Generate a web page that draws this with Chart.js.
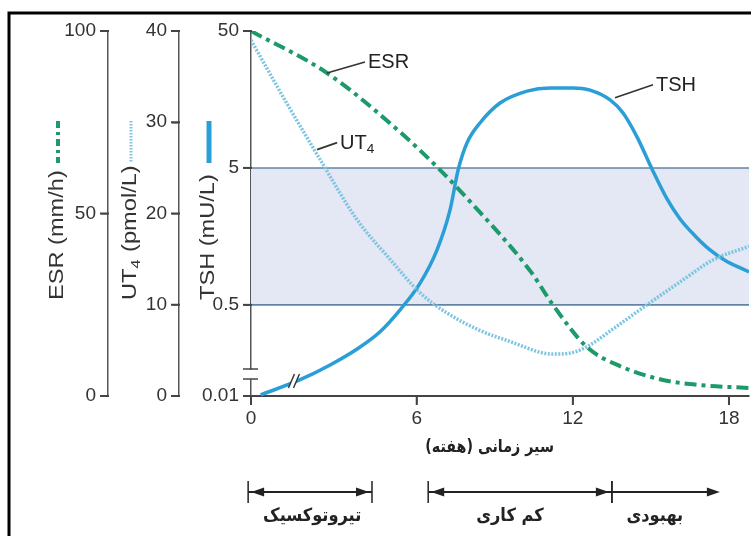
<!DOCTYPE html>
<html>
<head>
<meta charset="utf-8">
<script src="https://cdn.jsdelivr.net/npm/chart.js@4.4.1/dist/chart.umd.min.js"></script>
<style>
  html, body { margin: 0; padding: 0; background: #fff; }
</style>
</head>
<body>
<canvas id="chart" width="751" height="536"></canvas>
<script>
// weeks from onset (the picture's origin sits a little left of week 0)
const xMin = -0.37;
const xMax = 18.77;
const weekTicks = [0, 6, 12, 18];

const esrWeeks  = [-0.37, 2.55, 5.36, 6.90, 7.93, 10.39, 11.24, 12.54, 13.81, 15.46, 16.89, 18.77];
const esrValues = [100, 88.5, 72.3, 61.9, 54.2, 34.0, 24.9, 13.4, 8.2, 4.4, 3.0, 2.2];

const ut4Weeks  = [-0.37, 0.94, 2.29, 3.71, 4.97, 6.13, 7.16, 8.42, 9.46, 11.24, 11.89, 12.54, 13.62, 14.85, 16.12, 17.38, 18.77];
const ut4Values = [39.0, 32.4, 25.9, 19.3, 15.0, 11.3, 9.1, 7.2, 6.1, 4.6, 4.7, 5.4, 7.5, 10.0, 12.5, 14.9, 16.4];

const tshWeeks  = [0, 1.52, 2.67, 3.71, 4.59, 5.36, 6.13, 6.78, 7.28, 7.59, 7.93, 8.43, 9.20, 10.24, 11.12, 12.0, 12.66, 13.43, 13.93, 14.47, 15.04, 15.62, 16.12, 16.69, 17.27, 17.84, 18.77];
const tshValues = [0.11, 0.142, 0.182, 0.238, 0.318, 0.46, 0.72, 1.26, 2.47, 4.83, 7.61, 10.65, 14.9, 18.2, 19.2, 19.2, 18.5, 15.7, 12.6, 8.4, 4.92, 2.97, 2.12, 1.6, 1.26, 1.06, 0.87];

const esrTicks = [0, 50, 100];
const ut4Ticks = [0, 10, 20, 30, 40];
const tshTicks = [0.01, 0.5, 5, 50];   // log axis, broken below 0.5
const tshAxisMin = 0.108;
const tshNormal = [0.5, 5];

const phaseLabels = ['تیروتوکسیک', 'کم کاری', 'بهبودی'];
const phaseStart  = [-0.48, 6.44, 13.5];
const phaseEnd    = [4.28, 13.5, 17.65];
const phaseLabelAt = [1.98, 9.58, 15.15];

const xTitle = 'سیر زمانی (هفته)';

const ESR_COLOR = '#1c9a6a';
const UT4_COLOR = '#7cc4e0';
const TSH_COLOR = '#2a9ed6';
const AXIS_COLOR = '#444';
const LATIN = '"Liberation Sans", Arial, sans-serif';
const PERSIAN = '"DejaVu Sans", sans-serif';

const toPoints = (xs, ys) => xs.map((x, i) => ({ x: x, y: ys[i] }));

function drawRuns(ctx, runs, x, y, size) {
  runs.forEach(r => {
    const fs = r.sub ? size * 0.68 : size;
    ctx.font = fs + 'px ' + LATIN;
    ctx.fillText(r.t, x, y + (r.sub ? size * 0.3 : 0));
    x += ctx.measureText(r.t).width + (r.sub ? 1 : 0);
  });
  return x;
}

function persianText(ctx, text, x, y, size, squeeze) {
  ctx.save();
  ctx.translate(x, y);
  ctx.scale(squeeze, 1);
  ctx.direction = 'rtl';
  ctx.textAlign = 'center';
  ctx.textBaseline = 'middle';
  ctx.font = 'bold ' + size + 'px ' + PERSIAN;
  ctx.fillText(text, 0, 0);
  ctx.restore();
}

const axisTitles = [
  { id: 'yESR', runs: [{ t: 'ESR (mm/h)' }], color: ESR_COLOR, dash: [7, 4, 3, 4], width: 4, fromRight: 51 },
  { id: 'yUT4', runs: [{ t: 'UT' }, { t: '4', sub: true }, { t: ' (pmol/L)' }], color: UT4_COLOR, dash: [1.5, 1.5], width: 3, fromRight: 49 },
  { id: 'yTSH', runs: [{ t: 'TSH (mU/L)' }], color: TSH_COLOR, dash: [], width: 5, fromRight: 43 }
];

const callouts = [
  { axis: 'yESR', week: 2.55, value: 88.5, dx: 38, dy: -11, runs: [{ t: 'ESR' }] },
  { axis: 'yUT4', week: 2.17, value: 27, dx: 20, dy: -7, runs: [{ t: 'UT' }, { t: '4', sub: true }] },
  { axis: 'yTSH', week: 13.62, value: 16.3, dx: 38, dy: -13, runs: [{ t: 'TSH' }] }
];

const extras = {
  id: 'extras',
  beforeDatasetsDraw(chart) {
    const { ctx, chartArea, scales } = chart;
    const yTop = scales.yTSH.getPixelForValue(tshNormal[1]);
    const yBot = scales.yTSH.getPixelForValue(tshNormal[0]);
    ctx.save();
    ctx.fillStyle = '#e4e7f4';
    ctx.fillRect(chartArea.left, yTop, chartArea.right - chartArea.left, yBot - yTop);
    ctx.strokeStyle = '#6384a6';
    ctx.lineWidth = 1.6;
    [yTop, yBot].forEach(y => {
      ctx.beginPath();
      ctx.moveTo(chartArea.left - 7, y);
      ctx.lineTo(chartArea.right, y);
      ctx.stroke();
    });
    ctx.restore();
  },
  afterDraw(chart) {
    const { ctx, chartArea, scales } = chart;
    const x = scales.x;
    ctx.save();
    ctx.setLineDash([]);

    // tick marks on every axis
    ctx.strokeStyle = AXIS_COLOR;
    ctx.lineWidth = 2;
    ['yESR', 'yUT4', 'yTSH'].forEach(id => {
      const s = scales[id];
      s.ticks.forEach(t => {
        const py = s.getPixelForValue(t.value);
        ctx.beginPath();
        ctx.moveTo(s.right - 8, py);
        ctx.lineTo(s.right + 1, py);
        ctx.stroke();
      });
    });
    x.ticks.forEach(t => {
      const px = x.getPixelForValue(t.value);
      ctx.beginPath();
      ctx.moveTo(px, chartArea.bottom);
      ctx.lineTo(px, chartArea.bottom + 9);
      ctx.stroke();
    });

    // vertical axis titles with line samples
    axisTitles.forEach(a => {
      const s = scales[a.id];
      const cx = s.right - a.fromRight;
      ctx.save();
      ctx.strokeStyle = a.color;
      ctx.lineWidth = a.width;
      ctx.setLineDash(a.dash);
      ctx.beginPath();
      ctx.moveTo(cx + 1, 121);
      ctx.lineTo(cx + 1, 163);
      ctx.stroke();
      ctx.setLineDash([]);
      ctx.translate(cx, 300);
      ctx.rotate(-Math.PI / 2);
      ctx.scale(1.18, 1);
      ctx.fillStyle = '#333';
      ctx.textBaseline = 'middle';
      ctx.textAlign = 'left';
      drawRuns(ctx, a.runs, 0, 0, 20);
      ctx.restore();
    });

    // curve callouts
    callouts.forEach(c => {
      const px = x.getPixelForValue(c.week);
      const py = scales[c.axis].getPixelForValue(c.value);
      ctx.strokeStyle = '#333';
      ctx.lineWidth = 1.6;
      ctx.beginPath();
      ctx.moveTo(px, py);
      ctx.lineTo(px + c.dx, py + c.dy);
      ctx.stroke();
      ctx.fillStyle = '#222';
      ctx.textBaseline = 'middle';
      ctx.textAlign = 'left';
      drawRuns(ctx, c.runs, px + c.dx + 3, py + c.dy + 1, 20);
    });

    // break on the TSH axis
    const ax = scales.yTSH.right;
    ctx.fillStyle = '#fff';
    ctx.fillRect(ax - 3, 370, 6, 9);
    ctx.strokeStyle = AXIS_COLOR;
    ctx.lineWidth = 1.5;
    [369, 379].forEach(y => {
      ctx.beginPath();
      ctx.moveTo(ax - 8, y);
      ctx.lineTo(ax + 7, y);
      ctx.stroke();
    });

    // break on the TSH curve
    const bx = x.getPixelForValue(1.3);
    const by = scales.yTSH.getPixelForValue(0.139);
    ctx.fillStyle = '#fff';
    ctx.beginPath();
    ctx.moveTo(bx - 6, by + 7);
    ctx.lineTo(bx + 0, by - 7);
    ctx.lineTo(bx + 5, by - 7);
    ctx.lineTo(bx - 1, by + 7);
    ctx.closePath();
    ctx.fill();
    ctx.strokeStyle = '#333';
    ctx.lineWidth = 1.4;
    [-6, -1].forEach(a => {
      ctx.beginPath();
      ctx.moveTo(bx + a, by + 7);
      ctx.lineTo(bx + a + 6, by - 7);
      ctx.stroke();
    });

    // x title
    ctx.fillStyle = '#222';
    persianText(ctx, xTitle, x.getPixelForValue(8.8), 448, 17, 0.84);

    // phase brackets
    const yb = 492;
    ctx.strokeStyle = '#222';
    ctx.fillStyle = '#222';
    const arrow = (tip, dir) => {
      ctx.beginPath();
      ctx.moveTo(tip, yb);
      ctx.lineTo(tip - dir * 13, yb - 4.5);
      ctx.lineTo(tip - dir * 13, yb + 4.5);
      ctx.closePath();
      ctx.fill();
    };
    phaseLabels.forEach((label, i) => {
      const x0 = x.getPixelForValue(phaseStart[i]);
      const x1 = x.getPixelForValue(phaseEnd[i]);
      const last = i === phaseLabels.length - 1;
      ctx.lineWidth = 2;
      ctx.beginPath();
      ctx.moveTo(x0, yb);
      ctx.lineTo(x1 - (last ? 6 : 0), yb);
      ctx.stroke();
      ctx.lineWidth = 1.5;
      ctx.beginPath();
      ctx.moveTo(x0, yb - 11);
      ctx.lineTo(x0, yb + 11);
      if (!last) {
        ctx.moveTo(x1, yb - 11);
        ctx.lineTo(x1, yb + 11);
      }
      ctx.stroke();
      if (!last) arrow(x0 + 3, -1);
      arrow(last ? x1 : x1 - 3, 1);
      persianText(ctx, label, x.getPixelForValue(phaseLabelAt[i]), 516, 18, 0.9);
    });

    // picture frame (top and left edges)
    ctx.strokeStyle = '#000';
    ctx.lineWidth = 3;
    ctx.beginPath();
    ctx.moveTo(9, 536);
    ctx.lineTo(9, 13);
    ctx.lineTo(751, 13);
    ctx.stroke();
    ctx.restore();
  }
};

const yAxisBase = (weight, width) => ({
  position: 'left',
  weight: weight,
  afterFit: s => { s.width = width; },
  grid: { drawOnChartArea: false, drawTicks: true, tickLength: 7, color: AXIS_COLOR, lineWidth: 1.5 },
  border: { display: true, color: '#555', width: 1.5 },
  ticks: { color: '#333', padding: 5, font: { family: LATIN, size: 19 } }
});

new Chart(document.getElementById('chart'), {
  type: 'line',
  data: {
    datasets: [
      {
        label: 'ESR', yAxisID: 'yESR', data: toPoints(esrWeeks, esrValues),
        borderColor: ESR_COLOR, borderWidth: 4, borderDash: [12, 5, 4, 5],
        pointRadius: 0, cubicInterpolationMode: 'monotone', fill: false
      },
      {
        label: 'UT4', yAxisID: 'yUT4', data: toPoints(ut4Weeks, ut4Values),
        borderColor: UT4_COLOR, borderWidth: 3.5, borderDash: [2, 1.5],
        pointRadius: 0, cubicInterpolationMode: 'monotone', fill: false
      },
      {
        label: 'TSH', yAxisID: 'yTSH', data: toPoints(tshWeeks, tshValues),
        borderColor: TSH_COLOR, borderWidth: 3.5,
        pointRadius: 0, cubicInterpolationMode: 'monotone', fill: false
      }
    ]
  },
  options: {
    responsive: false,
    animation: false,
    layout: { padding: { top: 31, right: 2, left: 0, bottom: 0 } },
    plugins: { legend: { display: false }, tooltip: { enabled: false } },
    scales: {
      x: {
        type: 'linear', min: xMin, max: xMax,
        afterBuildTicks: s => { s.ticks = weekTicks.map(v => ({ value: v === 0 ? xMin : v })); },
        afterFit: s => { s.height = 140; },
        grid: { drawOnChartArea: false, drawTicks: true, tickLength: 8, color: AXIS_COLOR, lineWidth: 1.5 },
        border: { display: true, color: '#444', width: 2 },
        ticks: {
          color: '#333', padding: 3, maxRotation: 0, font: { family: LATIN, size: 19 },
          callback: v => (v === xMin ? '0' : v)
        }
      },
      yTSH: Object.assign(yAxisBase(1, 72), {
        type: 'logarithmic', min: tshAxisMin, max: 50,
        afterBuildTicks: s => { s.ticks = tshTicks.map(v => ({ value: Math.max(v, tshAxisMin) })); }
      }),
      yUT4: Object.assign(yAxisBase(2, 71), {
        type: 'linear', min: 0, max: 40,
        afterBuildTicks: s => { s.ticks = ut4Ticks.map(v => ({ value: v })); }
      }),
      yESR: Object.assign(yAxisBase(3, 108), {
        type: 'linear', min: 0, max: 100,
        afterBuildTicks: s => { s.ticks = esrTicks.map(v => ({ value: v })); }
      })
    }
  },
  plugins: [extras]
});

// tick label text for the broken TSH axis
Chart.getChart('chart').options.scales.yTSH.ticks.callback = v => (v === tshAxisMin ? '0.01' : String(v));
Chart.getChart('chart').update();
</script>
</body>
</html>
